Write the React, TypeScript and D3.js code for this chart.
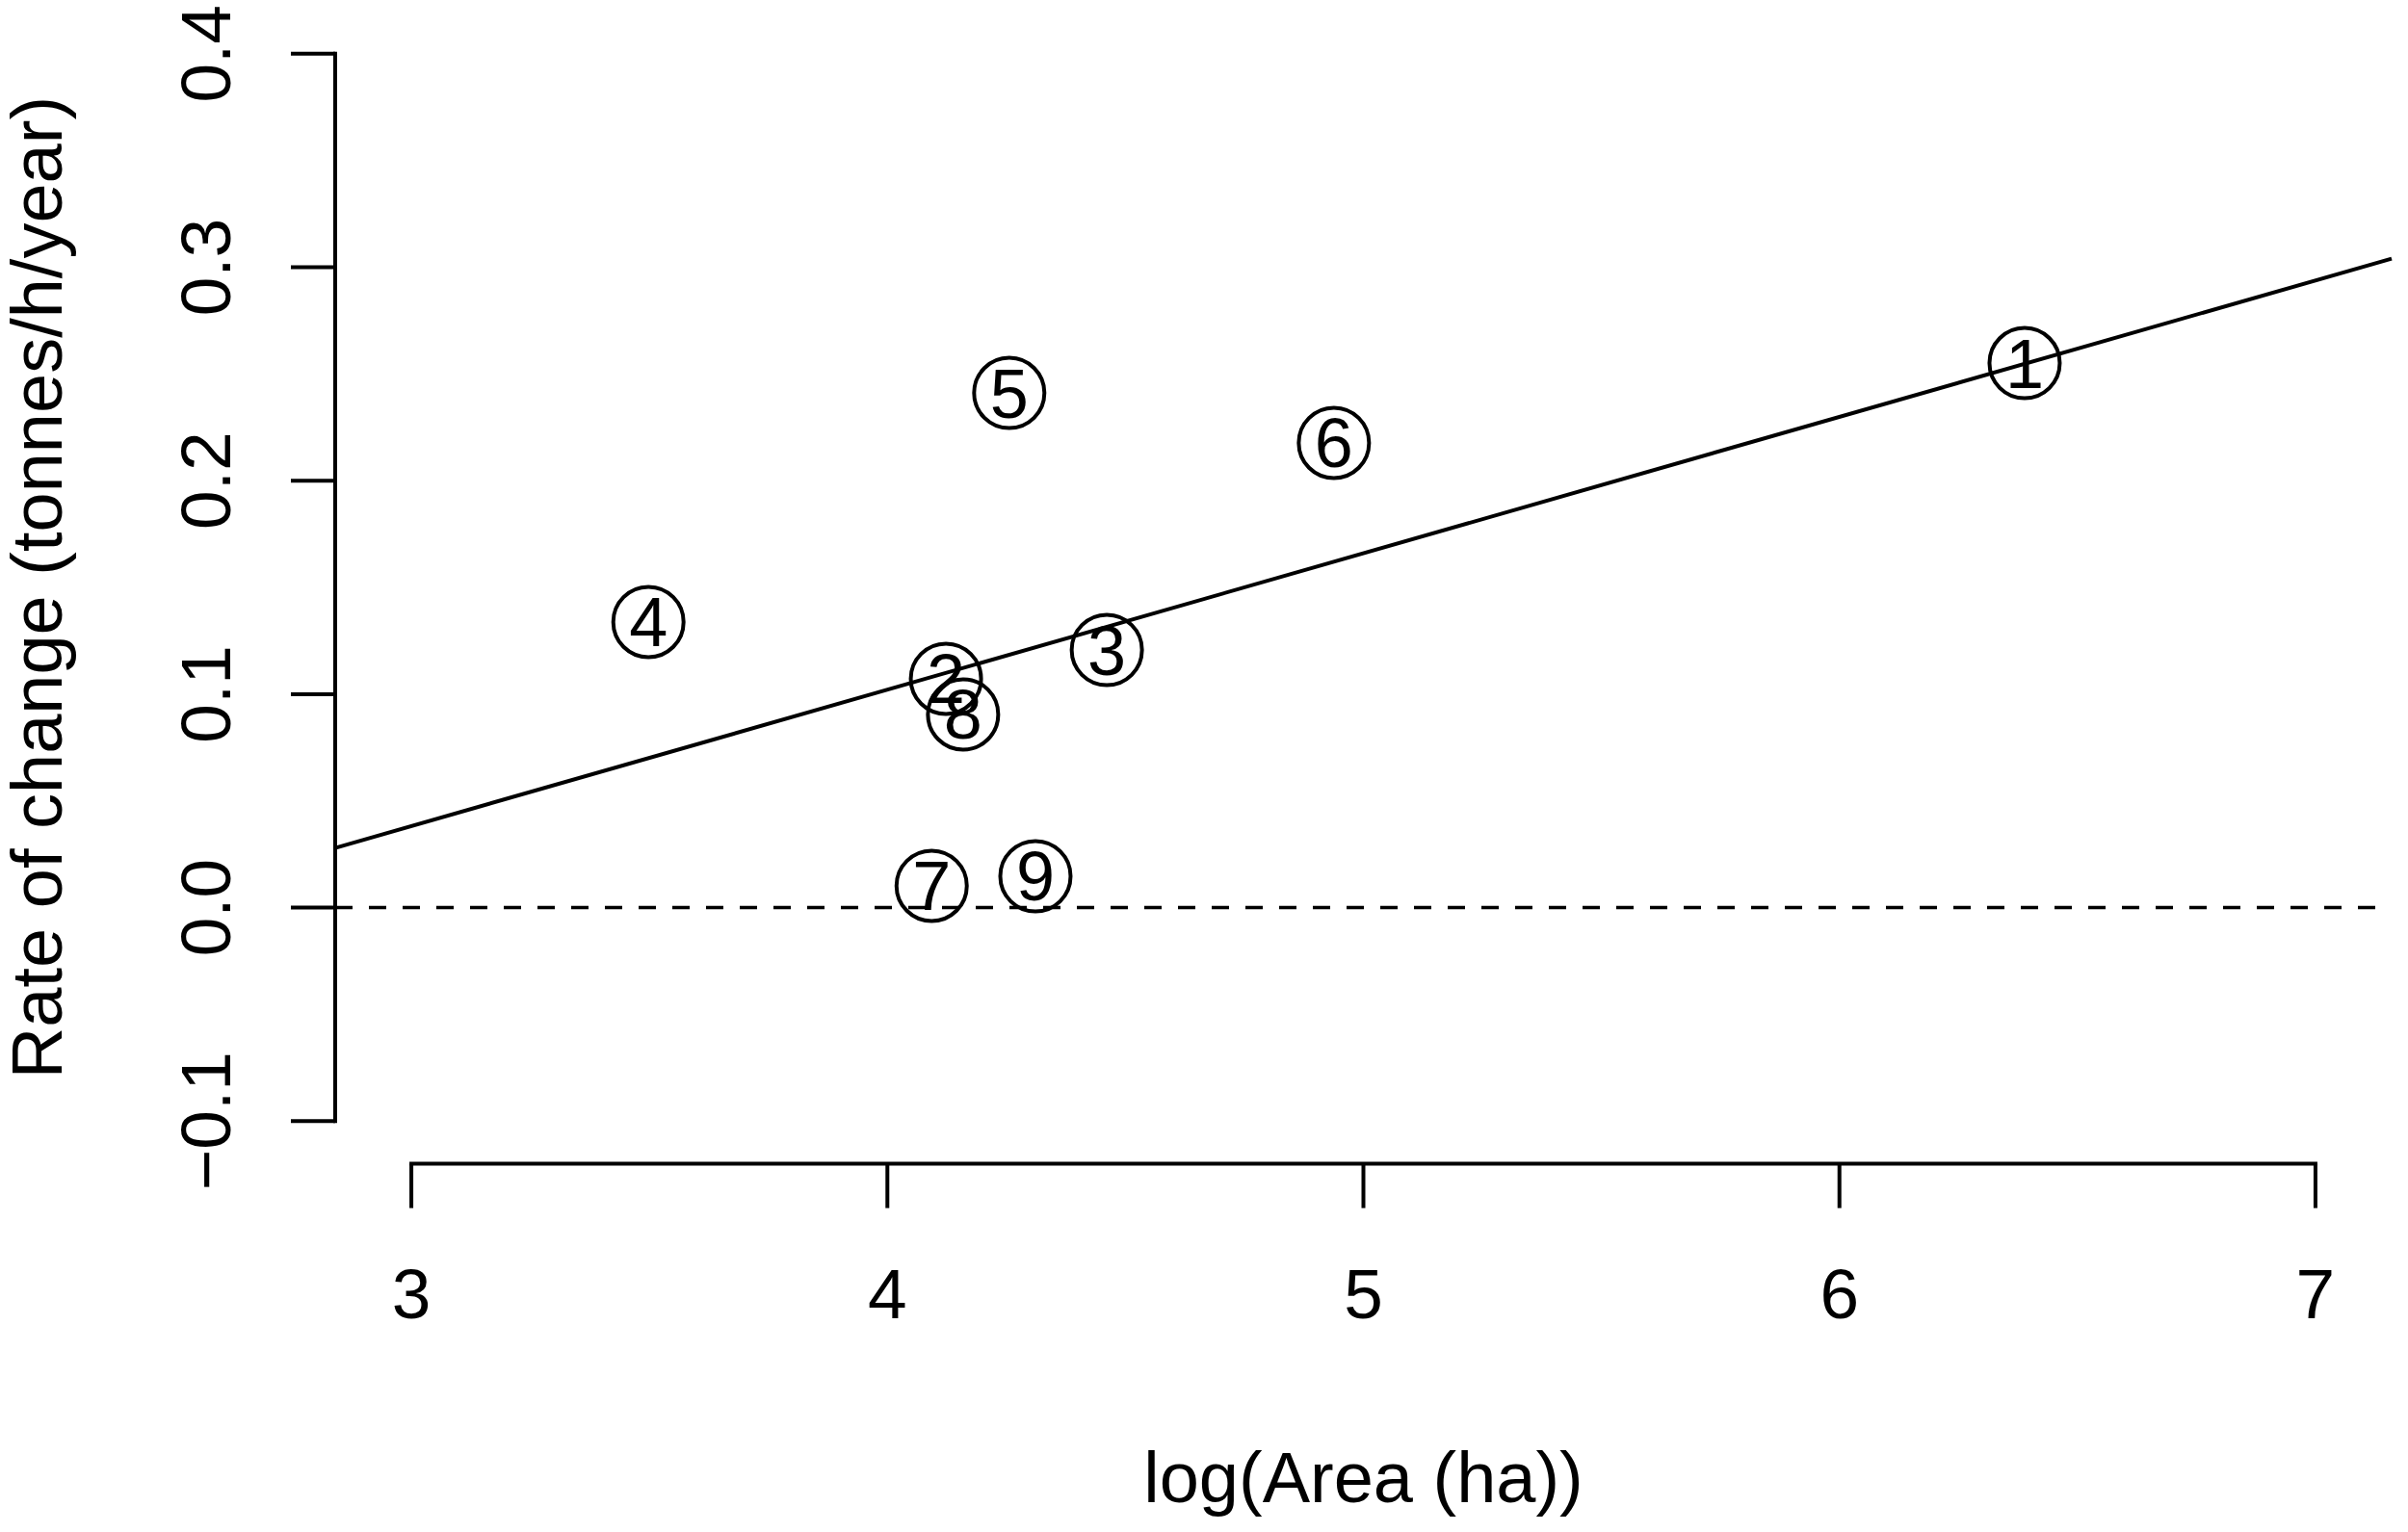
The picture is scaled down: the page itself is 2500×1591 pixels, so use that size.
import * as d3 from "d3";
import { useEffect, useRef } from "react";

// site numbers and their values
const siteLabels = ["1", "2", "3", "4", "5", "6", "7", "8", "9"];
const logArea = [6.389, 4.123, 4.461, 3.498, 4.256, 4.938, 4.093, 4.159, 4.311];
const rateOfChange = [0.2551, 0.1072, 0.1207, 0.1338, 0.2411, 0.2177, 0.0102, 0.0905, 0.0147];

const xTicks = [3, 4, 5, 6, 7];
const xTickLabels = ["3", "4", "5", "6", "7"];
const yTicks = [-0.1, 0, 0.1, 0.2, 0.3, 0.4];
const yTickLabels = ["\u22120.1", "0.0", "0.1", "0.2", "0.3", "0.4"];

// fitted line (intercept, slope) as drawn
const fitIntercept = -0.1535;
const fitSlope = 0.0639;

const W = 2500, H = 1591;
const FONT = "'Liberation Sans', Arial, Helvetica, sans-serif";

const renderPlot = (node) => {
    const svg = d3.select(node);
    svg.selectAll("*").remove();

    // R pads the limits by 4%
    const xScale = d3.scaleLinear().domain([2.84, 7.16]).range([348, 2483]);
    const yScale = d3.scaleLinear().domain([-0.12, 0.42]).range([1208.6, 11.5]);
    const [left, right] = xScale.range();

    svg.append("rect").attr("width", W).attr("height", H).attr("fill", "white");

    // y axis
    const yAxis = svg.append("g").attr("stroke", "black").attr("stroke-width", 4);
    yAxis.append("line")
        .attr("x1", left).attr("x2", left)
        .attr("y1", yScale(0.4)).attr("y2", yScale(-0.1))
        .attr("stroke-linecap", "square");
    yAxis.selectAll("line.tick")
        .data(yTicks)
        .enter()
        .append("line")
        .classed("tick", true)
        .attr("x1", left).attr("x2", left - 46)
        .attr("y1", d => yScale(d)).attr("y2", d => yScale(d));

    svg.append("g")
        .selectAll("text")
        .data(yTicks)
        .enter()
        .append("text")
        .attr("transform", d => "translate(239," + yScale(d) + ") rotate(-90)")
        .attr("text-anchor", "middle")
        .attr("font-family", FONT)
        .attr("font-size", 73)
        .text((d, i) => yTickLabels[i]);

    // x axis (drawn at the bottom of the plot region)
    const axisY = yScale(-0.12);
    const xAxis = svg.append("g").attr("stroke", "black").attr("stroke-width", 4);
    xAxis.append("line")
        .attr("x1", xScale(3)).attr("x2", xScale(7))
        .attr("y1", axisY).attr("y2", axisY)
        .attr("stroke-linecap", "square");
    xAxis.selectAll("line.tick")
        .data(xTicks)
        .enter()
        .append("line")
        .classed("tick", true)
        .attr("x1", d => xScale(d)).attr("x2", d => xScale(d))
        .attr("y1", axisY).attr("y2", axisY + 46);

    svg.append("g")
        .selectAll("text")
        .data(xTicks)
        .enter()
        .append("text")
        .attr("x", d => xScale(d))
        .attr("y", 1369)
        .attr("text-anchor", "middle")
        .attr("font-family", FONT)
        .attr("font-size", 73)
        .text((d, i) => xTickLabels[i]);

    // axis titles
    svg.append("text")
        .attr("x", (left + right) / 2)
        .attr("y", 1560)
        .attr("text-anchor", "middle")
        .attr("font-family", FONT)
        .attr("font-size", 74)
        .text("log(Area (ha))");

    svg.append("text")
        .attr("transform", "translate(64," + (yScale.range()[0] + yScale.range()[1]) / 2 + ") rotate(-90)")
        .attr("text-anchor", "middle")
        .attr("font-family", FONT)
        .attr("font-size", 74)
        .text("Rate of change (tonnes/h/year)");

    // zero reference line
    svg.append("line")
        .attr("x1", left).attr("x2", right)
        .attr("y1", yScale(0)).attr("y2", yScale(0))
        .attr("stroke", "black")
        .attr("stroke-width", 3.5)
        .attr("stroke-dasharray", "18,17");

    // fitted line across the plot region
    const fitLine = d3.line()
        .x(d => xScale(d))
        .y(d => yScale(fitIntercept + fitSlope * d));
    svg.append("path")
        .attr("d", fitLine(xScale.domain()))
        .attr("fill", "none")
        .attr("stroke", "black")
        .attr("stroke-width", 4);

    // numbered sites
    const points = siteLabels.map((label, i) => ({ label, x: logArea[i], y: rateOfChange[i] }));
    const pointGroup = svg.append("g");
    pointGroup.selectAll("circle")
        .data(points)
        .enter()
        .append("circle")
        .attr("cx", d => xScale(d.x))
        .attr("cy", d => yScale(d.y))
        .attr("r", 36.5)
        .attr("fill", "none")
        .attr("stroke", "black")
        .attr("stroke-width", 4);
    pointGroup.selectAll("text")
        .data(points)
        .enter()
        .append("text")
        .attr("x", d => xScale(d.x))
        .attr("y", d => yScale(d.y) + 25.5)
        .attr("text-anchor", "middle")
        .attr("font-family", FONT)
        .attr("font-size", 72)
        .text(d => d.label);
};

const App = () => {
    const ref = useRef(null);

    useEffect(() => {
        renderPlot(ref.current);
    });

    return (
        <svg ref={ref} width={W} height={H} style={{ position: "absolute", left: 0, top: 0 }} />
    );
};

export default App;
